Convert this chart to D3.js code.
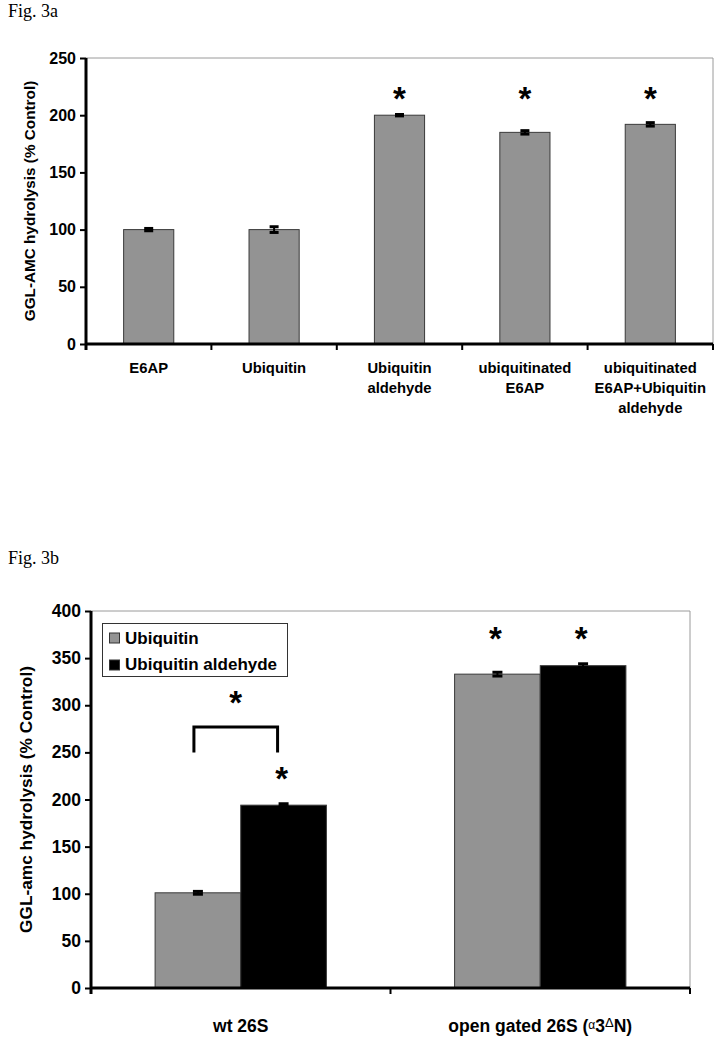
<!DOCTYPE html>
<html><head><meta charset="utf-8">
<script src="https://cdn.jsdelivr.net/npm/d3@7"></script>
<style>body{margin:0;background:#fff}</style>
</head><body><svg id="c" width="725" height="1050"></svg>
<script>
// ---------- Data: Fig. 3a ----------
const categoriesA = ["E6AP", "Ubiquitin", "Ubiquitin\naldehyde", "ubiquitinated\nE6AP", "ubiquitinated\nE6AP+Ubiquitin\naldehyde"];
const valuesA = [100, 100, 200, 185, 192];
const errorsA = [1, 2.5, 0.6, 1.5, 1.5];
const ticksA = [0, 50, 100, 150, 200, 250];
const starCatsA = ["Ubiquitin\naldehyde", "ubiquitinated\nE6AP", "ubiquitinated\nE6AP+Ubiquitin\naldehyde"];
const starLevelA = 221;

// ---------- Data: Fig. 3b ----------
const groupsB = ["wt 26S", "open gated 26S (α3ΔN)"];
const seriesB = ["Ubiquitin", "Ubiquitin aldehyde"];
const ubiquitinB = [101, 333];
const ubiquitinAldB = [194, 342];
const errUbiquitinB = [1.5, 2];
const errUbiquitinAldB = [1.5, 2];
const ticksB = [0, 50, 100, 150, 200, 250, 300, 350, 400];
const starsB = [
  {group: "wt 26S", series: "Ubiquitin aldehyde", y: 229.5},
  {group: "open gated 26S (α3ΔN)", series: "Ubiquitin", y: 378},
  {group: "open gated 26S (α3ΔN)", series: "Ubiquitin aldehyde", y: 378}
];
const bracketB = {group: "wt 26S", from: "Ubiquitin", to: "Ubiquitin aldehyde", low: 250, high: 277, star: 310};

const GREY = "#939393";
const SANS = "'Liberation Sans', Arial, sans-serif";
const SERIF = "'Liberation Serif', 'Times New Roman', serif";

const svg = d3.select("#c");
svg.append("rect").attr("width", 725).attr("height", 1050).attr("fill", "#fff");

function star(g, x, yc, size) {
  g.append("text").attr("x", x).attr("y", yc + size * 0.56)
    .attr("text-anchor", "middle").attr("font-family", SANS).attr("font-weight", "bold")
    .attr("font-size", size).attr("fill", "#000").text("*");
}

function errBar(g, x, y, v, e, w) {
  const y1 = y(v + e), y0 = y(v - e);
  g.append("line").attr("x1", x).attr("x2", x).attr("y1", y0).attr("y2", y1).attr("stroke", "#000").attr("stroke-width", 2);
  [y0, y1].forEach(yy => g.append("line").attr("x1", x - w / 2).attr("x2", x + w / 2).attr("y1", yy).attr("y2", yy)
    .attr("stroke", "#000").attr("stroke-width", 3));
}

// =================== Fig. 3a ===================
svg.append("text").attr("x", 8).attr("y", 17).attr("font-family", SERIF).attr("font-size", 18).text("Fig. 3a");
{
  const L = 86, R = 713, T = 58, B = 344;
  const x = d3.scaleBand().domain(categoriesA).range([L, R]);
  const y = d3.scaleLinear().domain([0, 250]).range([B, T]);
  const g = svg.append("g");
  g.append("line").attr("x1", L).attr("x2", R).attr("y1", T).attr("y2", T).attr("stroke", "#9a9a9a").attr("stroke-width", 1);
  g.append("line").attr("x1", R).attr("x2", R).attr("y1", T).attr("y2", B).attr("stroke", "#9a9a9a").attr("stroke-width", 1);
  const bw = x.bandwidth() * 0.4;
  categoriesA.forEach((c, i) => {
    const cx = x(c) + x.bandwidth() / 2;
    g.append("rect").attr("x", cx - bw / 2).attr("y", y(valuesA[i])).attr("width", bw).attr("height", B - y(valuesA[i]))
      .attr("fill", GREY).attr("stroke", "#3a3a3a").attr("stroke-width", 1);
    errBar(g, cx, y, valuesA[i], errorsA[i], 9);
  });
  starCatsA.forEach(c => star(g, x(c) + x.bandwidth() / 2, y(starLevelA), 33));
  const ya = g.append("g").attr("transform", `translate(${L},0)`)
    .call(d3.axisLeft(y).tickValues(ticksA).tickSize(6).tickPadding(4));
  ya.select(".domain").attr("d", `M0,${T}V${B + 6}`).attr("stroke-width", 3).attr("stroke", "#000");
  ya.selectAll(".tick line").attr("stroke-width", 2);
  ya.selectAll(".tick text").attr("font-family", SANS).attr("font-weight", "bold").attr("font-size", 16).attr("fill", "#000");
  const xa = g.append("g").attr("transform", `translate(0,${B})`);
  xa.append("line").attr("x1", L).attr("x2", R).attr("stroke", "#000").attr("stroke-width", 3);
  categoriesA.concat([null]).forEach(c => {
    const xx = c === null ? R : x(c);
    xa.append("line").attr("x1", xx).attr("x2", xx).attr("y1", 0).attr("y2", 6).attr("stroke", "#000").attr("stroke-width", 2);
  });
  categoriesA.forEach(c => {
    const t = xa.append("text").attr("text-anchor", "middle").attr("font-family", SANS).attr("font-weight", "bold")
      .attr("font-size", 14.8).attr("fill", "#000");
    c.split("\n").forEach((ln, j) => t.append("tspan").attr("x", x(c) + x.bandwidth() / 2).attr("y", 29 + j * 20).text(ln));
  });
  g.append("text").attr("transform", `translate(35,${(T + B) / 2}) rotate(-90)`).attr("text-anchor", "middle")
    .attr("font-family", SANS).attr("font-weight", "bold").attr("font-size", 15.3).text("GGL-AMC hydrolysis (% Control)");
}

// =================== Fig. 3b ===================
svg.append("text").attr("x", 8).attr("y", 564).attr("font-family", SERIF).attr("font-size", 18).text("Fig. 3b");
{
  const L = 91, R = 690, T = 611, B = 988;
  const x0 = d3.scaleBand().domain(groupsB).range([L, R]);
  const x1 = d3.scaleBand().domain(seriesB).range([x0.bandwidth() * 0.214, x0.bandwidth() * 0.786]);
  const y = d3.scaleLinear().domain([0, 400]).range([B, T]);
  const color = d3.scaleOrdinal().domain(seriesB).range([GREY, "#000"]);
  const vals = {"Ubiquitin": ubiquitinB, "Ubiquitin aldehyde": ubiquitinAldB};
  const errs = {"Ubiquitin": errUbiquitinB, "Ubiquitin aldehyde": errUbiquitinAldB};
  const g = svg.append("g");
  g.append("line").attr("x1", L).attr("x2", R).attr("y1", T).attr("y2", T).attr("stroke", "#9a9a9a").attr("stroke-width", 1);
  g.append("line").attr("x1", R).attr("x2", R).attr("y1", T).attr("y2", B).attr("stroke", "#9a9a9a").attr("stroke-width", 1);
  groupsB.forEach((grp, i) => {
    seriesB.forEach(s => {
      const v = vals[s][i];
      g.append("rect").attr("x", x0(grp) + x1(s)).attr("y", y(v)).attr("width", x1.bandwidth()).attr("height", B - y(v))
        .attr("fill", color(s)).attr("stroke", "#3a3a3a").attr("stroke-width", 1);
    });
    seriesB.forEach(s => {
      errBar(g, x0(grp) + x1(s) + x1.bandwidth() / 2, y, vals[s][i], errs[s][i], 10);
    });
  });
  starsB.forEach(d => star(g, x0(d.group) + x1(d.series) + x1.bandwidth() / 2 - 2, y(d.y), 33));
  const bx1 = x0(bracketB.group) + x1(bracketB.from) + x1.bandwidth() / 2 - 4;
  const bx2 = x0(bracketB.group) + x1(bracketB.to) + x1.bandwidth() / 2 - 6;
  g.append("path").attr("d", `M${bx1},${y(bracketB.low)}V${y(bracketB.high)}H${bx2}V${y(bracketB.low)}`)
    .attr("fill", "none").attr("stroke", "#000").attr("stroke-width", 3);
  star(g, (bx1 + bx2) / 2, y(bracketB.star), 33);
  const ya = g.append("g").attr("transform", `translate(${L},0)`)
    .call(d3.axisLeft(y).tickValues(ticksB).tickSize(6).tickPadding(4));
  ya.select(".domain").attr("d", `M0,${T}V${B + 6}`).attr("stroke-width", 3).attr("stroke", "#000");
  ya.selectAll(".tick line").attr("stroke-width", 2);
  ya.selectAll(".tick text").attr("font-family", SANS).attr("font-weight", "bold").attr("font-size", 17.5).attr("fill", "#000");
  const xa = g.append("g").attr("transform", `translate(0,${B})`);
  xa.append("line").attr("x1", L).attr("x2", R).attr("stroke", "#000").attr("stroke-width", 3);
  groupsB.concat([null]).forEach(c => {
    const xx = c === null ? R : x0(c);
    xa.append("line").attr("x1", xx).attr("x2", xx).attr("y1", 0).attr("y2", 6).attr("stroke", "#000").attr("stroke-width", 2);
  });
  xa.append("text").attr("x", x0(groupsB[0]) + x0.bandwidth() / 2).attr("y", 44).attr("text-anchor", "middle")
    .attr("font-family", SANS).attr("font-weight", "bold").attr("font-size", 17.5).text(groupsB[0]);
  const lab2 = xa.append("text").attr("x", x0(groupsB[1]) + x0.bandwidth() / 2).attr("y", 44).attr("text-anchor", "middle")
    .attr("font-family", SANS).attr("font-weight", "bold").attr("font-size", 17.5);
  lab2.append("tspan").text("open gated 26S (");
  lab2.append("tspan").attr("font-size", 12).attr("font-weight", "normal").attr("dy", -3).text("α");
  lab2.append("tspan").attr("dy", 3).text("3");
  lab2.append("tspan").attr("font-size", 13).attr("font-weight", "normal").attr("dy", -5).text("Δ");
  lab2.append("tspan").attr("dy", 5).text("N)");
  const lg = g.append("g");
  lg.append("rect").attr("x", 102.5).attr("y", 623.5).attr("width", 185).attr("height", 53).attr("fill", "#fff").attr("stroke", "#333").attr("stroke-width", 1);
  seriesB.forEach((s, i) => {
    lg.append("rect").attr("x", 109.5).attr("y", 633 + i * 27).attr("width", 10).attr("height", 10)
      .attr("fill", color(s)).attr("stroke", "#333").attr("stroke-width", 1);
    lg.append("text").attr("x", 125).attr("y", 643.5 + i * 26.5).attr("font-family", SANS).attr("font-weight", "bold")
      .attr("font-size", 17).text(s);
  });
  g.append("text").attr("transform", `translate(32,${(T + B) / 2}) rotate(-90)`).attr("text-anchor", "middle")
    .attr("font-family", SANS).attr("font-weight", "bold").attr("font-size", 17.3).text("GGL-amc hydrolysis (% Control)");
}
</script></body></html>
